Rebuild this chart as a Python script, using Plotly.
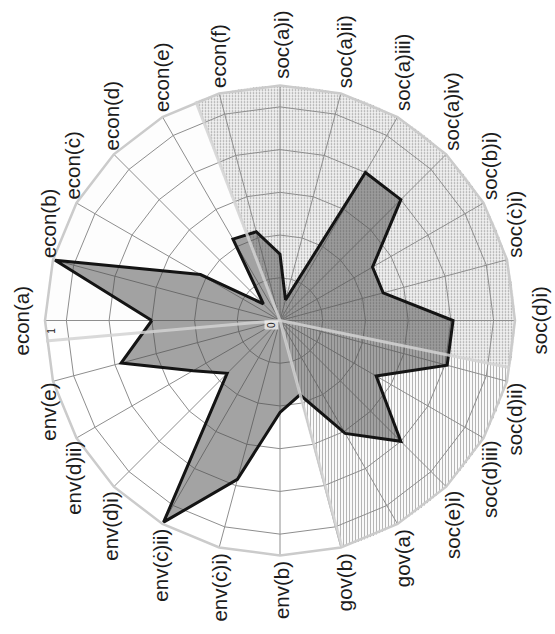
import math
import plotly.graph_objects as go

# ---- data -------------------------------------------------------------
categories = [
    "econ(a)", "econ(b)", "econ(ċ)", "econ(d)", "econ(e)", "econ(f)",
    "soc(a)i)", "soc(a)ii)", "soc(a)iii)", "soc(a)iv)", "soc(b)i)", "soc(ċ)i)",
    "soc(d)i)", "soc(d)ii)", "soc(d)iii)", "soc(e)i)", "gov(a)", "gov(b)",
    "env(b)", "env(ċ)i)", "env(ċ)ii)", "env(d)i)", "env(d)ii)", "env(e)",
]
scores = [
    0.60, 1.09, 0.43, 0.11, 0.44, 0.43,
    0.31, 0.10, 0.80, 0.80, 0.50, 0.50,
    0.81, 0.81, 0.52, 0.80, 0.61, 0.36,
    0.43, 0.77, 1.09, 0.35, 0.47, 0.77,
]

# background pie of the indicator groups (shares of the full circle, clockwise)
group_names = ["social", "social (d)-(e)", "governance / environment", "economic"]
group_shares = [0.3406, 0.1753, 0.2786, 0.2056]
group_start_deg = 111.0

radial_tick_values = [0, 1]
radial_tick_text = ["0", "1"]

# ---- geometry ---------------------------------------------------------
W, H = 555, 634
CX, CY = 280.0, 320.5      # centre of the radar in pixels (from top-left)
R_PX = 235.0               # pixel radius of the outer ring
R_MAX = 1.1

dom_x = [(CX - R_PX) / W, (CX + R_PX) / W]
dom_y = [(H - CY - R_PX) / H, (H - CY + R_PX) / H]

fig = go.Figure()

# ---- background sectors ----------------------------------------------
centers, spans = [], []
start = group_start_deg
for share in group_shares:
    span = share * 360.0
    centers.append(start - span / 2.0)
    spans.append(span)
    start -= span

fig.add_trace(go.Barpolar(
    r=[R_MAX] * len(group_shares), theta=centers, width=spans,
    name="groups", text=group_names, hoverinfo="text",
    marker=dict(
        color=["#f0f0f0", "#fafafa", "#ffffff", "#fdfdfd"],
        line=dict(width=0),
        pattern=dict(shape=[".", "|", "", ""],
                     fgcolor=["#dedede", "#ededed", "#ffffff", "#ffffff"],
                     size=3, solidity=0.25),
    ),
    subplot="polar", showlegend=False,
))

# ---- radar polygon ----------------------------------------------------
fig.add_trace(go.Scatterpolar(
    r=scores + [scores[0]], theta=categories + [categories[0]],
    mode="lines", fill="toself",
    fillcolor="rgba(72,72,72,0.5)",
    line=dict(color="#141414", width=3),
    subplot="polar2", showlegend=False,
))

# ---- group separators, drawn over the polygon ---------------------------
bounds = [group_start_deg]
for share in group_shares[:-1]:
    bounds.append(bounds[-1] - share * 360.0)
for b in bounds:
    fig.add_trace(go.Scatterpolar(
        r=[0, R_MAX], theta=[b, b], mode="lines",
        line=dict(color="rgba(210,210,210,0.85)", width=3),
        subplot="polar3", showlegend=False, hoverinfo="skip",
    ))

grid_col = "#8e8e8e"
fig.update_layout(
    width=W, height=H,
    margin=dict(l=0, r=0, t=0, b=0),
    paper_bgcolor="white",
    showlegend=False,
    polar=dict(
        domain=dict(x=dom_x, y=dom_y),
        bgcolor="white",
        radialaxis=dict(range=[0, R_MAX], visible=False),
        angularaxis=dict(visible=False, rotation=0, direction="counterclockwise"),
        bargap=0,
    ),
    polar2=dict(
        domain=dict(x=dom_x, y=dom_y),
        bgcolor="rgba(0,0,0,0)",
        gridshape="linear",
        radialaxis=dict(range=[0, R_MAX], tickvals=[0.2, 0.4, 0.6, 0.8, 1.0],
                        showticklabels=False, ticks="", showline=False,
                        gridcolor=grid_col, gridwidth=1),
        angularaxis=dict(type="category", categoryarray=categories,
                         rotation=180, direction="clockwise",
                         showticklabels=False, ticks="",
                         gridcolor=grid_col, gridwidth=1,
                         showline=True, linecolor="#cbcbcb", linewidth=2.5),
    ),
    polar3=dict(
        domain=dict(x=dom_x, y=dom_y),
        bgcolor="rgba(0,0,0,0)",
        radialaxis=dict(range=[0, R_MAX], visible=False),
        angularaxis=dict(rotation=0, direction="counterclockwise",
                         showticklabels=False, ticks="", showgrid=False,
                         showline=False),
    ),
)

# ---- category labels (rotated a quarter turn) ---------------------------
# Each label's near edge sits on an anchor just outside the outer ring:
# labels above/below the centre line hang off their bottom/top edge,
# the two on the centre line off their inner side edge.
FONT = "Liberation Sans, Arial, sans-serif"
FS = 20.5
char_w = {"a": .556, "b": .556, "c": .5, "ċ": .5, "d": .556, "e": .556,
          "f": .278, "g": .556, "i": .222, "n": .556, "o": .556, "s": .5,
          "v": .5, "(": .333, ")": .333}
GAP, SIDE_HALF = 6.0, 18.0

def to_paper(px, py):
    return px / W, 1.0 - py / H

n = len(categories)
for i, lab in enumerate(categories):
    ang = math.radians(180.0 - i * 360.0 / n)       # clockwise from the left
    ux, uy = math.cos(ang), -math.sin(ang)          # screen direction
    half_len = sum(char_w.get(ch, .55) for ch in lab) * FS / 2.0
    ax_ = CX + (R_PX + GAP) * ux
    ay_ = CY + (R_PX + GAP) * uy
    if abs(uy) < 0.01:
        px, py = ax_ + math.copysign(SIDE_HALF, ux), ay_
    else:
        px, py = ax_ + 1.5, ay_ + math.copysign(half_len, uy)
    x, y = to_paper(px, py)
    fig.add_annotation(x=x, y=y, xref="paper", yref="paper", text=lab,
                       textangle=-90, showarrow=False,
                       xanchor="center", yanchor="middle",
                       font=dict(family=FONT, size=FS, color="#1c1c1c"))

# ---- radial value labels along the first axis ---------------------------
for v, t in zip(radial_tick_values, radial_tick_text):
    rpx = 9.0 + v * (R_PX / R_MAX) * 1.0 + (6.0 if v else 0.0)
    px, py = CX - rpx, CY + (10.0 if v else 4.5)
    x, y = to_paper(px, py)
    fig.add_annotation(x=x, y=y, xref="paper", yref="paper", text=t,
                       textangle=-90, showarrow=False,
                       xanchor="center", yanchor="middle",
                       bgcolor="rgba(236,236,236,0.85)" if not v else None,
                       font=dict(family=FONT, size=10, color="#222222"))

fig.write_html("out.html")
